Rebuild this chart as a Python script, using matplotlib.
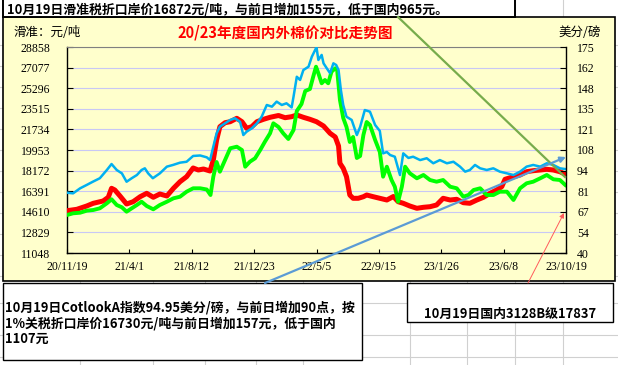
"""
20/23年度国内外棉价对比走势图

三条价格曲线:
  - 国内 3128B 级 (红, 左轴 元/吨)
  - 滑准税折口岸价 (绿, 左轴 元/吨)
  - Cotlook A 指数 (蓝, 右轴 美分/磅)
外加表格底纹、三个说明框和指示线.
"""

import numpy as np
import matplotlib
matplotlib.use("Agg")
import matplotlib.pyplot as plt
from matplotlib.patches import Rectangle

plt.rcParams["font.family"] = ["Noto Sans CJK SC", "DejaVu Sans"]

# ---- 数据 (x 为自 2020-11-19 起的天数) ----
x_tick_days = [0, 133, 266, 399, 532, 665, 798, 931, 1064]
x_tick_labels = ["20/11/19", "21/4/1", "21/8/12", "21/12/23", "22/5/5",
                 "22/9/15", "23/1/26", "23/6/8", "23/10/19"]
left_ticks = [11048, 12829, 14610, 16391, 18172, 19953, 21734, 23515,
              25296, 27077, 28858]
right_tick_labels = ["40", "54", "67", "81", "94", "108", "121", "135",
                     "148", "162", "175"]

# 国内 3128B (元/吨)
domestic_days = [0, 21, 42, 56, 77, 88, 95, 102, 113, 127, 141, 156, 170,
                 184, 198, 213, 227, 241, 255, 269, 280, 291, 305, 312, 319,
                 326, 337, 348, 362, 373, 383, 394, 405, 419, 433, 451, 465,
                 479, 490, 504, 518, 532, 547, 561, 572, 579, 582, 589, 596,
                 603, 610, 621, 632, 639, 653, 667, 682, 696, 706, 717, 731,
                 746, 760, 774, 788, 802, 817, 831, 845, 859, 874, 888, 902,
                 916, 927, 934, 948, 966, 980, 994, 1009, 1023, 1037, 1051,
                 1064]
domestic_3128b = [14705, 14826, 15111, 15345, 15544, 15864, 16642, 16495,
                  15976, 15284, 15483, 15915, 16209, 15864, 16149, 15976,
                  16642, 17212, 17645, 18397, 18224, 18310, 18137, 19088,
                  20818, 21967, 22313, 22400, 22694, 22400, 21829, 21967,
                  22400, 22607, 22780, 22936, 22746, 22832, 22979, 22780,
                  22607, 22400, 22028, 21397, 21077, 20299, 18803, 18371,
                  17645, 16062, 15777, 15777, 15915, 16062, 15915, 15777,
                  15630, 15933, 15483, 15345, 15111, 14913, 14999, 15051,
                  15198, 15777, 15630, 15691, 15397, 15345, 15630, 15864,
                  16209, 16495, 16780, 17420, 17593, 17792, 18077, 18163,
                  18224, 18284, 18224, 18077, 17837]

# 滑准税折口岸价 (元/吨)
slide_days = [0, 13, 28, 42, 56, 70, 85, 95, 106, 117, 127, 138, 149, 159,
              170, 184, 198, 213, 227, 241, 255, 269, 284, 298, 306, 312,
              319, 326, 337, 348, 362, 373, 380, 390, 401, 412, 422, 433,
              440, 451, 461, 472, 483, 490, 500, 508, 518, 525, 531, 536,
              543, 550, 557, 564, 572, 576, 582, 589, 596, 603, 610, 618,
              625, 632, 639, 646, 657, 667, 674, 682, 692, 699, 706, 714,
              721, 731, 746, 760, 774, 788, 802, 817, 831, 845, 856, 867,
              881, 895, 909, 923, 938, 952, 966, 980, 994, 1009, 1023, 1037,
              1051, 1064]
slide_tax_price = [14333, 14480, 14532, 14705, 14766, 14913, 15345, 15691,
                   15198, 14999, 14619, 14913, 15198, 15483, 15111, 14826,
                   15198, 15483, 15777, 15915, 16348, 16642, 16642, 16538,
                   16062, 17645, 18915, 18077, 19088, 20100, 20238, 19953,
                   18509, 18941, 19235, 19953, 20671, 21397, 22261, 21941,
                   21397, 20904, 21682, 23325, 23930, 25054, 25227, 26290,
                   27155, 26584, 25720, 26005, 25720, 26723, 27016, 26869,
                   24276, 22720, 21941, 20645, 21077, 19261, 19434, 21250,
                   22374, 22114, 20818, 19780, 17645, 18509, 17359, 16780,
                   15483, 16780, 18509, 17939, 17506, 17792, 17359, 17212,
                   17359, 16780, 16642, 15915, 16062, 16495, 16642, 16062,
                   16062, 16348, 16348, 15630, 16642, 17074, 17212, 17506,
                   17792, 17420, 17359, 16872]

# Cotlook A 指数 (美分/磅)
cotlook_days = [0, 13, 28, 42, 55, 70, 85, 95, 106, 117, 127, 138, 149, 159,
                166, 173, 183, 198, 213, 226, 241, 255, 269, 284, 298, 305,
                312, 319, 326, 337, 348, 358, 369, 376, 383, 394, 405, 415,
                426, 437, 447, 458, 468, 479, 483, 490, 497, 504, 515, 522,
                529, 532, 536, 543, 547, 554, 561, 568, 574, 579, 584, 589,
                596, 607, 618, 625, 635, 646, 657, 667, 674, 682, 689, 699,
                710, 717, 728, 738, 753, 767, 781, 795, 810, 824, 838, 849,
                859, 870, 881, 895, 909, 923, 938, 952, 966, 980, 994, 1009,
                1023, 1037, 1051, 1064]
cotlook_a = [79.5, 79.1, 82.4, 84.6, 86.7, 89.0, 94.4, 98.3, 94.4, 92.2,
             86.7, 89.0, 91.1, 94.4, 95.5, 92.2, 89.0, 92.2, 96.6, 97.7,
             99.2, 99.8, 103.6, 103.9, 102.7, 100.9, 109.7, 118.4, 122.8,
             125.0, 127.2, 128.3, 126.0, 117.3, 119.5, 121.7, 125.0, 129.3,
             137.0, 135.9, 139.2, 137.0, 138.1, 135.4, 142.4, 155.5, 153.4,
             159.9, 162.1, 168.6, 173.0, 174.8, 166.5, 169.8, 164.3, 161.0,
             157.8, 164.3, 163.2, 159.9, 146.8, 137.0, 129.3, 127.2, 117.3,
             122.6, 133.7, 132.6, 123.9, 120.0, 105.3, 106.2, 104.2, 103.1,
             91.1, 105.3, 102.3, 103.1, 100.9, 102.1, 98.8, 100.9, 98.8,
             99.8, 96.6, 93.3, 94.4, 97.7, 95.5, 94.4, 95.5, 93.3, 92.2,
             91.1, 93.3, 96.6, 97.7, 96.6, 98.8, 97.7, 95.5, 94.95]

title = "20/23年度国内外棉价对比走势图"
top_note = "10月19日滑准税折口岸价16872元/吨，与前日增加155元，低于国内965元。"
cotlook_note = ["10月19日CotlookA指数94.95美分/磅，与前日增加90点，按",
                "1%关税折口岸价16730元/吨与前日增加157元，低于国内",
                "1107元"]
domestic_note = "10月19日国内3128B级17837"

# ---- 画布 (像素坐标) ----
W, H = 618, 365
YELLOW = "#FFFFCC"
fig = plt.figure(figsize=(W / 100, H / 100), dpi=100, facecolor="white")

# 背景: 表格格线 + 图表区
bg = fig.add_axes([0, 0, 1, 1], zorder=0)
bg.set_xlim(0, W)
bg.set_ylim(H, 0)
bg.axis("off")
for y in [45, 66, 87, 108, 129, 150, 171, 192, 213, 234, 255, 276, 303,
          335, 357]:
    bg.axhline(y, color="#D0D0D0", lw=0.8, zorder=1)
for x in [80, 153, 205, 256, 303, 410, 467, 515, 563]:
    bg.axvline(x, color="#D0D0D0", lw=0.8, zorder=1)
bg.add_patch(Rectangle((3, 17), 612, 264, facecolor=YELLOW,
                       edgecolor="black", lw=1.2, zorder=3))
bg.add_patch(Rectangle((3, -3), 512, 20, facecolor="white",
                       edgecolor="black", lw=1.4, zorder=4))

# 绘图区
ax = fig.add_axes([67 / W, 1 - 253 / H, 499 / W, 206 / H], zorder=1)
ax.set_facecolor(YELLOW)
ax.plot(domestic_days, domestic_3128b, color="#FF0000", lw=3.6,
        solid_joinstyle="round", solid_capstyle="round", zorder=3)
ax.plot(slide_days, slide_tax_price, color="#00FF00", lw=2.8,
        solid_joinstyle="round", solid_capstyle="round", zorder=4)
ax.set_xlim(0, 1064)
ax.set_ylim(left_ticks[0], left_ticks[-1])
ax.set_yticks(left_ticks, labels=[str(v) for v in left_ticks],
              fontfamily="Liberation Serif", fontsize=8.5)
ax.set_xticks(x_tick_days, labels=x_tick_labels,
              fontfamily="Liberation Serif", fontsize=8.5)
ax.tick_params(axis="y", direction="in", length=4, pad=12, width=0.8)
ax.tick_params(axis="x", direction="in", length=3, pad=6, width=0.8)
ax.grid(axis="y", color="#C8C8F5", lw=0.8)
ax.set_axisbelow(True)
ax.spines["top"].set_color("#808080")
ax.spines["right"].set_visible(False)
for s in ["left", "bottom"]:
    ax.spines[s].set_linewidth(1.0)

ax2 = ax.twinx()
ax2.set_zorder(2)
ax2.plot(cotlook_days, cotlook_a, color="#00B0F0", lw=1.8,
         solid_joinstyle="round")
ax2.set_ylim(40, 175)
ax2.set_yticks(np.linspace(40, 175, 11), labels=right_tick_labels,
               fontfamily="Liberation Serif", fontsize=8.5)
ax2.tick_params(axis="y", direction="in", length=4, pad=8, width=0.8)
for s in ["top", "left", "bottom"]:
    ax2.spines[s].set_visible(False)
ax2.spines["right"].set_linewidth(1.0)

# 覆盖层: 指示线 + 说明框 + 文字
ov = fig.add_axes([0, 0, 1, 1], zorder=5)
ov.set_xlim(0, W)
ov.set_ylim(H, 0)
ov.axis("off")
ov.patch.set_visible(False)

ov.plot([398, 565], [17, 177], color="#77AC4C", lw=1.6)
ov.annotate("", xy=(566, 157), xytext=(265, 283),
            arrowprops=dict(arrowstyle="-|>", color="#5B9BD5", lw=1.6,
                            mutation_scale=8, shrinkA=0, shrinkB=0))
ov.annotate("", xy=(564, 213), xytext=(528, 283),
            arrowprops=dict(arrowstyle="-|>", color="#FF5B5B", lw=0.7,
                            mutation_scale=7, shrinkA=0, shrinkB=0))

ov.add_patch(Rectangle((3, 283), 359, 77, facecolor="white",
                       edgecolor="black", lw=1.0))
ov.add_patch(Rectangle((407, 283), 206, 39, facecolor="white",
                       edgecolor="black", lw=1.0))

ov.text(7, 9.5, top_note, fontsize=9.3, fontweight="bold",
        ha="left", va="center")
for i, line in enumerate(cotlook_note):
    ov.text(5, 307.5 + i * 15.8, line, fontsize=9.3, fontweight="bold",
            ha="left", va="center")
ov.text(510, 314, domestic_note, fontsize=9.3, fontweight="bold",
        ha="center", va="center")

ov.text(285, 33, title, color="#FF0000", fontsize=10.5, fontweight="bold",
        ha="center", va="center")
ov.text(13, 33, "滑准：元/吨", fontsize=9, ha="left", va="center")
ov.text(558, 33, "美分/磅", fontsize=9, ha="left", va="center")

fig.savefig("out.png", dpi=100, facecolor=fig.get_facecolor())
plt.close(fig)
